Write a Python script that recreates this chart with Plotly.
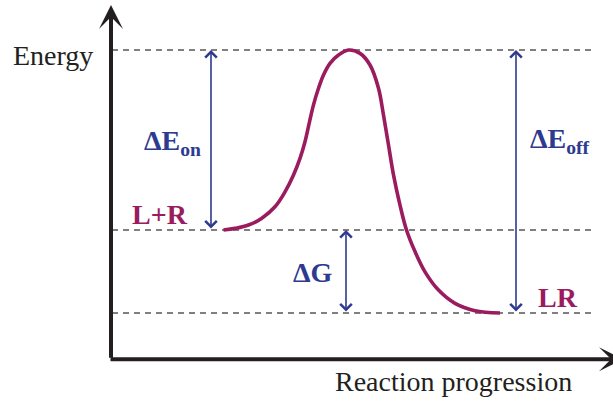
import plotly.graph_objects as go

# ---- data (energy in arbitrary units, reaction coordinate 0..100) ----
reaction_coord = [22.5, 24.8, 27.5, 30.1, 32.8, 34.8, 36.5, 37.8, 38.8, 39.7, 40.5, 41.5, 42.5,
                  43.8, 45.5, 47.5, 49.8, 51.8, 53.5, 54.5, 55.5, 56.5, 57.8, 59.1, 60.8,
                  62.8, 65.5, 68.8, 72.8, 77.8]
energy = [25.0, 25.5, 26.5, 28.5, 32.0, 36.5, 41.6, 46.6, 51.6, 57.6, 62.7, 67.7, 71.7,
          75.2, 77.7, 79.2, 78.2, 74.7, 67.7, 59.6, 50.6, 41.6, 32.5, 25.0, 18.5,
          12.4, 6.9, 2.9, 0.7, 0.0]

E_LR = 0.0          # bound complex
E_LplusR = 25.0     # free ligand + receptor
E_TS = 79.2         # transition state

level_labels = ["L+R", "LR"]
x_axis_title = "Reaction progression"
y_axis_title = "Energy"

# x positions of the double arrows
x_dEon, x_dG, x_dEoff = 20.0, 47.0, 81.0
x_line_end = 96.2
axis_origin_y = -13.9

CURVE = "#9B1B5F"
BLUE = "#2E3A8F"
GREY = "#808080"
FONT = "Liberation Serif, Times New Roman, DejaVu Serif, serif"

fig = go.Figure()

# dashed reference levels
for e in [E_TS, E_LplusR, E_LR]:
    fig.add_trace(go.Scatter(x=[0.2, x_line_end], y=[e, e], mode="lines",
                             line=dict(color=GREY, width=2, dash="6px,5px"),
                             hoverinfo="skip", showlegend=False))

# energy profile
fig.add_trace(go.Scatter(x=reaction_coord, y=energy, mode="lines",
                         line=dict(color=CURVE, width=3.6, shape="spline", smoothing=1.0),
                         hoverinfo="skip", showlegend=False))

ann = []
# axes arrows
ann.append(dict(x=0, y=92.8, ax=0, ay=axis_origin_y, xref="x", yref="y", axref="x", ayref="y",
                showarrow=True, arrowhead=3, arrowwidth=4, arrowsize=1, arrowcolor="#231F20", text=""))
ann.append(dict(x=102.4, y=axis_origin_y, ax=-0.4, ay=axis_origin_y, xref="x", yref="y", axref="x", ayref="y",
                showarrow=True, arrowhead=3, arrowwidth=4, arrowsize=1, arrowcolor="#231F20", text=""))

# double arrows
for xa, e1, e2 in [(x_dEon, E_LplusR, E_TS), (x_dG, E_LR, E_LplusR), (x_dEoff, E_LR, E_TS)]:
    ann.append(dict(x=xa, y=e2, ax=xa, ay=e1, xref="x", yref="y", axref="x", ayref="y",
                    showarrow=True, arrowhead=4, startarrowhead=4, arrowside="end+start",
                    arrowwidth=1.6, arrowsize=1.4, startarrowsize=1.4,
                    arrowcolor=BLUE, text=""))

# labels
bold = dict(family=FONT, size=28, weight="bold")
ann.append(dict(x=-3.2, y=77.5, xref="x", yref="y", text=y_axis_title, showarrow=False,
                xanchor="right", yanchor="middle", font=dict(family=FONT, size=28, color="#231F20")))
ann.append(dict(x=68.4, y=-20.5, xref="x", yref="y", text=x_axis_title, showarrow=False,
                xanchor="center", yanchor="middle", font=dict(family=FONT, size=28, color="#231F20")))
ann.append(dict(x=6.2, y=51.5, xref="x", yref="y", text="ΔE<sub>on</sub>", showarrow=False,
                xanchor="left", yanchor="middle", font=dict(bold, color=BLUE)))
ann.append(dict(x=83.4, y=52.0, xref="x", yref="y", text="ΔE<sub>off</sub>", showarrow=False,
                xanchor="left", yanchor="middle", font=dict(bold, color=BLUE)))
ann.append(dict(x=40.3, y=12.3, xref="x", yref="y", text="ΔG", showarrow=False,
                xanchor="center", yanchor="middle", font=dict(bold, color=BLUE)))
ann.append(dict(x=9.8, y=29.7, xref="x", yref="y", text=level_labels[0], showarrow=False,
                xanchor="center", yanchor="middle", font=dict(bold, color=CURVE)))
ann.append(dict(x=89.4, y=4.8, xref="x", yref="y", text=level_labels[1], showarrow=False,
                xanchor="center", yanchor="middle", font=dict(bold, color=CURVE)))

fig.update_layout(
    width=613, height=401,
    margin=dict(l=0, r=0, t=0, b=0),
    paper_bgcolor="white", plot_bgcolor="white",
    xaxis=dict(range=[-22.2, 100.4], visible=False, fixedrange=True),
    yaxis=dict(range=[-26.5, 94.28], visible=False, fixedrange=True),
    annotations=ann,
    showlegend=False,
)

fig.write_html("out.html", config={"displayModeBar": False},
               post_script="document.body.style.margin='0px';document.body.style.overflow='hidden';")
